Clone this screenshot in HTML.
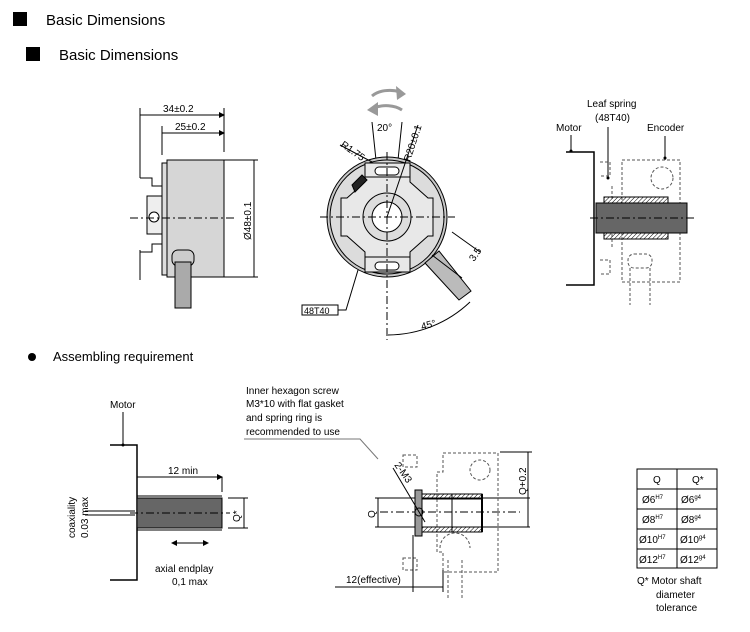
<!DOCTYPE html>
<html><head><meta charset="utf-8">
<style>
html,body{margin:0;padding:0;background:#fff;}
svg{display:block;}
text{font-family:"Liberation Sans",sans-serif;fill:#000;}
</style></head>
<body>
<svg width="750" height="632" viewBox="0 0 750 632" xmlns="http://www.w3.org/2000/svg">
<defs>
<pattern id="h" width="3" height="3" patternUnits="userSpaceOnUse" patternTransform="rotate(45)"><line x1="0" y1="0" x2="0" y2="3" stroke="#000" stroke-width="1"/></pattern>
<marker id="ar" markerUnits="userSpaceOnUse" markerWidth="6" markerHeight="6" refX="5" refY="3" orient="auto"><path d="M0,0 L6,3 L0,6z" fill="#000"/></marker>
<marker id="ar2" markerUnits="userSpaceOnUse" markerWidth="6" markerHeight="6" refX="1" refY="3" orient="auto"><path d="M6,0 L0,3 L6,6z" fill="#000"/></marker>
</defs>
<!-- headings -->
<rect x="13" y="12" width="14" height="14" fill="#000"/>
<text x="46" y="25" font-size="15">Basic Dimensions</text>
<rect x="26" y="47" width="14" height="14" fill="#000"/>
<text x="59" y="60" font-size="15">Basic Dimensions</text>

<!-- side view -->
<g stroke="#000" fill="none" stroke-width="1">
<line x1="140" y1="108" x2="140" y2="178"/><line x1="140" y1="250" x2="140" y2="280"/>
<line x1="162" y1="126" x2="162" y2="155"/><line x1="224" y1="108" x2="224" y2="152"/>
<line x1="140" y1="115" x2="224" y2="115" marker-end="url(#ar)"/>
<line x1="162" y1="133" x2="224" y2="133" marker-end="url(#ar)"/>
<path d="M140,178 h12 v8 h10 v58 h-10 v8 h-12"/>
<rect x="162" y="163" width="6" height="112" fill="#ddd"/>
<rect x="167" y="160" width="57" height="117" fill="#d6d6d6"/>
<rect x="147" y="196" width="15" height="38" fill="#eee"/>
<circle cx="154" cy="217" r="5" fill="#fff"/>
<line x1="130" y1="218" x2="235" y2="218" stroke-dasharray="8,3,2,3"/>
<line x1="224" y1="160" x2="258" y2="160"/><line x1="224" y1="277" x2="258" y2="277"/>
<line x1="254" y1="160" x2="254" y2="277"/>
<rect x="172" y="250" width="22" height="16" rx="6" fill="#ccc"/>
<rect x="175" y="262" width="16" height="46" fill="#aaa"/>
</g>
<text x="163" y="112" font-size="10">34±0.2</text>
<text x="175" y="130" font-size="10">25±0.2</text>
<text transform="translate(251,240) rotate(-90)" font-size="10">Ø48±0.1</text>

<!-- front view -->
<g stroke="#000" fill="none" stroke-width="1">
<path d="M372,96 A22,14 0 0 1 400,92" stroke-width="3" stroke="#999"/>
<path d="M396,86 L406,94 L397,100z" fill="#999" stroke="none"/>
<path d="M402,110 A22,14 0 0 0 374,108" stroke-width="3" stroke="#999"/>
<path d="M378,102 L367,110 L378,116z" fill="#999" stroke="none"/>
<line x1="372" y1="122" x2="376" y2="160"/><line x1="402" y1="122" x2="398" y2="160"/>
<circle cx="387" cy="217" r="60" fill="#c8c8c8"/>
<circle cx="387" cy="217" r="57" fill="#dcdcdc"/>
<polygon points="365,163 410,163 410,182 428,198 433,198 433,236 428,236 410,252 410,272 365,272 365,252 347,236 341,236 341,198 347,198 365,182" fill="#e8e8e8"/>
<line x1="365" y1="177" x2="410" y2="177"/><line x1="365" y1="257" x2="410" y2="257"/>
<rect x="375" y="167" width="24" height="8" rx="4" fill="#fff"/>
<rect x="375" y="262" width="24" height="8" rx="4" fill="#fff"/>
<path d="M352,185 l10,-10 l5,5 l-12,12z" fill="#222"/>
<circle cx="387" cy="217" r="24" fill="#ddd"/>
<circle cx="387" cy="217" r="15" fill="#fff"/>
<line x1="320" y1="217" x2="455" y2="217" stroke-dasharray="8,3,2,3"/>
<line x1="387" y1="152" x2="387" y2="340" stroke-dasharray="8,3,2,3"/>
<path d="M425,263 l14,-12 l32,40 l-12,9z" fill="#bbb"/>
<line x1="387" y1="217" x2="418" y2="125"/>
<line x1="340" y1="145" x2="372" y2="162"/>
<line x1="452" y1="232" x2="480" y2="252"/><line x1="432" y1="255" x2="462" y2="278"/>
<path d="M388,335 A120,120 0 0 0 470,302"/>
<path d="M338,310 h8 l12,-40"/>
<rect x="302" y="305" width="36" height="10" fill="#fff"/>
</g>
<text x="377" y="131" font-size="10">20°</text>
<text transform="translate(340,146) rotate(35)" font-size="10">R1.75</text>
<text transform="translate(410,162) rotate(-72)" font-size="10">R20±0.1</text>
<text transform="translate(474,262) rotate(-55)" font-size="10">3.5</text>
<text transform="translate(422,330) rotate(-15)" font-size="10">45°</text>
<text x="304" y="314" font-size="9">48T40</text>

<!-- top right -->
<g stroke="#000" fill="none" stroke-width="1">
<polyline points="566,152 594,152 594,285 566,285" stroke-width="1.5"/>
<line x1="571" y1="135" x2="571" y2="152"/>
<line x1="608" y1="127" x2="608" y2="178"/>
<line x1="665" y1="136" x2="665" y2="160"/>
<g stroke-dasharray="3,2" stroke="#555">
<rect x="622" y="160" width="58" height="122"/>
<circle cx="662" cy="178" r="11"/>
<path d="M600,162 h10 v14 h-10 M600,260 h10 v14 h-10 M612,186 v14 M612,234 v14"/>
<rect x="628" y="254" width="24" height="14" rx="6"/>
<line x1="630" y1="268" x2="630" y2="305"/><line x1="650" y1="268" x2="650" y2="305"/>
</g>
<rect x="604" y="197" width="64" height="6" fill="url(#h)"/>
<rect x="604" y="233" width="64" height="6" fill="url(#h)"/>
<rect x="596" y="203" width="91" height="30" fill="#666" stroke="#000"/>
<line x1="590" y1="218" x2="695" y2="218" stroke-dasharray="8,3,2,3"/>
</g>
<circle cx="571" cy="151" r="1.5"/><circle cx="608" cy="178" r="1.5"/><circle cx="665" cy="158" r="1.5"/>
<text x="556" y="131" font-size="10">Motor</text>
<text x="587" y="107" font-size="10">Leaf spring</text>
<text x="595" y="121" font-size="10">(48T40)</text>
<text x="647" y="131" font-size="10">Encoder</text>

<!-- assembling -->
<circle cx="32" cy="357" r="4"/>
<text x="53" y="361" font-size="13">Assembling requirement</text>

<g stroke="#000" fill="none" stroke-width="1">
<polyline points="110,445 137,445 137,580 110,580" stroke-width="1.5"/>
<line x1="123" y1="412" x2="123" y2="445"/>
<line x1="137" y1="477" x2="222" y2="477" marker-end="url(#ar)"/>
<line x1="222" y1="477" x2="222" y2="492"/>
<rect x="137" y="498" width="85" height="30" fill="#666"/>
<line x1="137" y1="496" x2="222" y2="496"/><line x1="137" y1="530" x2="222" y2="530"/>
<line x1="85" y1="511" x2="135" y2="511"/><line x1="85" y1="515" x2="135" y2="515"/>
<line x1="130" y1="513" x2="230" y2="513" stroke-dasharray="8,3,2,3"/>
<line x1="228" y1="498" x2="248" y2="498"/><line x1="228" y1="528" x2="248" y2="528"/>
<line x1="244" y1="498" x2="244" y2="528"/>
<line x1="172" y1="543" x2="208" y2="543" marker-end="url(#ar)" marker-start="url(#ar2)"/>
</g>
<circle cx="123" cy="445" r="1.5"/>
<text x="110" y="408" font-size="10">Motor</text>
<text x="168" y="474" font-size="10">12 min</text>
<text transform="translate(240,522) rotate(-90)" font-size="10">Q*</text>
<text transform="translate(75,538) rotate(-90)" font-size="10">coaxiality</text>
<text transform="translate(88,538) rotate(-90)" font-size="10">0.03 max</text>
<text x="155" y="572" font-size="10">axial endplay</text>
<text x="172" y="585" font-size="10">0,1 max</text>

<text x="246" y="394" font-size="10">Inner hexagon screw</text>
<text x="246" y="407" font-size="10">M3*10 with flat gasket</text>
<text x="246" y="421" font-size="10">and spring ring is</text>
<text x="246" y="435" font-size="10">recommended to use</text>
<g stroke="#000" fill="none" stroke-width="1">
<polyline points="244,439 360,439 378,459" stroke="#777"/>
<line x1="375" y1="498" x2="530" y2="498"/><line x1="375" y1="527" x2="530" y2="527"/>
<line x1="380" y1="512" x2="520" y2="512" stroke-dasharray="8,3,2,3"/>
<line x1="378" y1="498" x2="378" y2="527"/>
<line x1="528" y1="452" x2="528" y2="527"/><line x1="500" y1="452" x2="532" y2="452"/>
<g stroke-dasharray="3,2" stroke="#555">
<path d="M443,453 h55 v119 h-55 v-20 h-6 v-80 h6z"/>
<circle cx="480" cy="470" r="10"/>
<rect x="403" y="455" width="14" height="12"/><rect x="403" y="558" width="14" height="12"/>
<path d="M440,548 a14,14 0 0 1 30,0"/>
<line x1="448" y1="560" x2="448" y2="600"/><line x1="462" y1="560" x2="462" y2="600"/>
</g>
<rect x="420" y="494" width="62" height="5" fill="url(#h)"/>
<rect x="420" y="527" width="62" height="5" fill="url(#h)"/>
<rect x="415" y="490" width="7" height="46" fill="#999"/>
<line x1="452" y1="494" x2="452" y2="532"/>
<line x1="482" y1="494" x2="482" y2="532" stroke-width="2"/>
<circle cx="419" cy="512" r="4"/>
<line x1="393" y1="468" x2="425" y2="522"/>
<line x1="413" y1="535" x2="413" y2="592"/><line x1="443" y1="570" x2="443" y2="592"/>
<line x1="335" y1="587" x2="443" y2="587"/>
</g>
<text transform="translate(394,465) rotate(55)" font-size="10">2-M3</text>
<text transform="translate(526,495) rotate(-90)" font-size="10">Q+0.2</text>
<text transform="translate(375,518) rotate(-90)" font-size="10">Q</text>
<text x="346" y="583" font-size="10">12(effective)</text>

<!-- table -->
<g stroke="#000" fill="none" stroke-width="1">
<rect x="637" y="469" width="80" height="99"/>
<line x1="677" y1="469" x2="677" y2="568"/>
<line x1="637" y1="489" x2="717" y2="489"/><line x1="637" y1="509" x2="717" y2="509"/>
<line x1="637" y1="529" x2="717" y2="529"/><line x1="637" y1="549" x2="717" y2="549"/>
</g>
<g font-size="10">
<text x="653" y="483">Q</text><text x="692" y="483">Q*</text>
<text x="642" y="503">Ø6<tspan font-size="6" dy="-4">H7</tspan></text><text x="681" y="503">Ø6<tspan font-size="6" dy="-4">g4</tspan></text>
<text x="642" y="523">Ø8<tspan font-size="6" dy="-4">H7</tspan></text><text x="681" y="523">Ø8<tspan font-size="6" dy="-4">g4</tspan></text>
<text x="639" y="543">Ø10<tspan font-size="6" dy="-4">H7</tspan></text><text x="680" y="543">Ø10<tspan font-size="6" dy="-4">g4</tspan></text>
<text x="639" y="563">Ø12<tspan font-size="6" dy="-4">H7</tspan></text><text x="680" y="563">Ø12<tspan font-size="6" dy="-4">g4</tspan></text>
<text x="637" y="584">Q*  Motor shaft</text>
<text x="656" y="598">diameter</text>
<text x="656" y="611">tolerance</text>
</g>
</svg>
</body></html>
